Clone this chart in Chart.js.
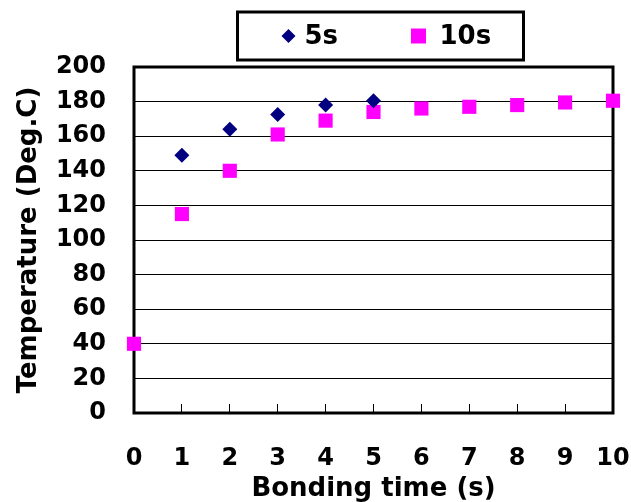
<!DOCTYPE html>
<html>
<head>
<meta charset="utf-8">
<script src="https://cdn.jsdelivr.net/npm/chart.js@4.4.0/dist/chart.umd.min.js"></script>
<style>
  html, body { margin: 0; padding: 0; background: #fff; }
  #wrap { width: 631px; height: 502px; }
</style>
</head>
<body>
<div id="wrap"><canvas id="tempChart"></canvas></div>
<script>
// bonding time (s) and measured temperature (Deg.C)
const times5s = [1, 2, 3, 4, 5];
const temp5s = [149, 164, 172.5, 178, 180.5];
const times10s = [0, 1, 2, 3, 4, 5, 6, 7, 8, 9, 10];
const temp10s = [40, 115, 140, 161, 169, 174, 176, 177, 178, 179.5, 180.5];
const seriesLabels = ['5s', '10s'];
const seriesColors = ['#000080', '#FF00FF'];

const FONT = "'DejaVu Sans', sans-serif";

const toPoints = (xs, ys) => xs.map((x, i) => ({ x: x, y: ys[i] }));

// frame round the plot + boxed legend on top
const frameAndLegend = {
    id: 'frameAndLegend',
    beforeDatasetsDraw(chart) {
        const { ctx, chartArea: a } = chart;
        ctx.save();
        ctx.strokeStyle = '#000';
        ctx.lineWidth = 3;
        ctx.strokeRect(a.left, a.top, a.right - a.left, a.bottom - a.top);
        ctx.restore();
    },
    afterDraw(chart) {
        const { ctx, chartArea: a } = chart;
        const cx = (a.left + a.right) / 2 + 7;
        const boxW = 286, boxH = 48, top = 12;
        const mid = top + boxH / 2;
        ctx.save();
        ctx.fillStyle = '#fff';
        ctx.fillRect(cx - boxW / 2, top, boxW, boxH);
        ctx.strokeStyle = '#000';
        ctx.lineWidth = 3;
        ctx.strokeRect(cx - boxW / 2, top, boxW, boxH);

        chart.data.datasets.forEach((ds, i) => {
            const mx = cx - 92 + i * 130;
            ctx.fillStyle = ds.backgroundColor;
            ctx.beginPath();
            if (ds.pointStyle === 'rectRot') {
                ctx.moveTo(mx, mid - 7);
                ctx.lineTo(mx + 7, mid);
                ctx.lineTo(mx, mid + 7);
                ctx.lineTo(mx - 7, mid);
                ctx.closePath();
            } else {
                ctx.rect(mx - 7.5, mid - 7.5, 15, 15);
            }
            ctx.fill();

            ctx.fillStyle = '#000';
            ctx.font = "bold 26px " + FONT;
            ctx.textBaseline = 'middle';
            ctx.textAlign = 'left';
            ctx.fillText(ds.label, mx + (i === 0 ? 16 : 21), mid + 1);
        });
        ctx.restore();
    }
};

const ctx = document.getElementById('tempChart').getContext('2d');
const myChart = new Chart(ctx, {
    type: 'scatter',
    data: {
        datasets: [{
            label: seriesLabels[0],
            data: toPoints(times5s, temp5s),
            pointStyle: 'rectRot',
            pointRadius: 7.5,
            pointHoverRadius: 7.5,
            backgroundColor: seriesColors[0],
            borderColor: seriesColors[0],
            borderWidth: 0,
            clip: false
        }, {
            label: seriesLabels[1],
            data: toPoints(times10s, temp10s),
            pointStyle: 'rect',
            pointRadius: 10,
            pointHoverRadius: 10,
            backgroundColor: seriesColors[1],
            borderColor: seriesColors[1],
            borderWidth: 0,
            clip: false
        }]
    },
    options: {
        responsive: true,
        maintainAspectRatio: false,
        animation: false,
        layout: { padding: { top: 67, right: 18, left: 0, bottom: 0 } },
        plugins: {
            legend: { display: false },
            tooltip: { enabled: false }
        },
        scales: {
            x: {
                type: 'linear',
                min: 0,
                max: 10,
                border: { display: false },
                grid: {
                    drawOnChartArea: false,
                    drawTicks: true,
                    tickLength: -9,
                    color: '#000',
                    lineWidth: 1
                },
                ticks: {
                    stepSize: 1,
                    color: '#000',
                    padding: 40,
                    maxRotation: 0,
                    font: { family: FONT, size: 24, weight: 'bold' }
                },
                title: {
                    display: true,
                    text: 'Bonding time (s)',
                    color: '#000',
                    padding: 0,
                    font: { family: FONT, size: 26, weight: 'bold', lineHeight: 1 }
                },
                afterFit: (scale) => {
                    scale.height = 89;
                    // let the "10" label hang into the right margin
                    scale.paddingLeft = 0;
                    scale.paddingRight = 0;
                }
            },
            y: {
                min: 0,
                max: 200,
                border: { display: false },
                grid: {
                    drawTicks: false,
                    color: '#000',
                    lineWidth: 1
                },
                ticks: {
                    stepSize: 20,
                    color: '#000',
                    padding: 28,
                    font: { family: FONT, size: 24, weight: 'bold' }
                },
                title: {
                    display: true,
                    text: 'Temperature (Deg.C)',
                    color: '#000',
                    padding: { top: 14, bottom: 0 },
                    font: { family: FONT, size: 26, weight: 'bold', lineHeight: 1.2 }
                },
                afterFit: (scale) => { scale.width = 134; }
            }
        }
    },
    plugins: [frameAndLegend]
});
</script>
</body>
</html>
